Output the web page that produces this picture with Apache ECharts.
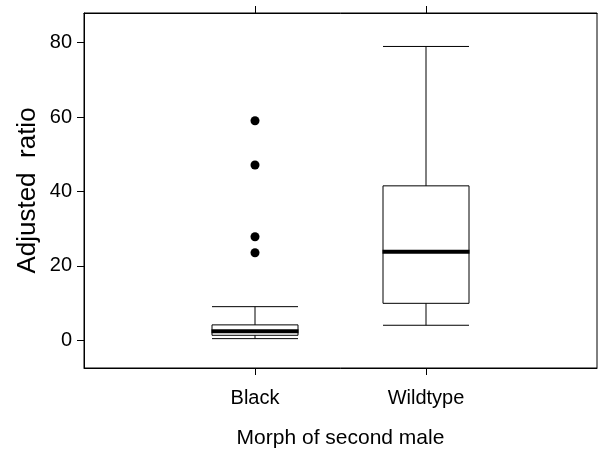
<!DOCTYPE html>
<html>
<head>
<meta charset="utf-8">
<script src="https://cdn.jsdelivr.net/npm/echarts@6/dist/echarts.min.js"></script>
<style>
html,body{margin:0;padding:0;background:#fff;}
#c{width:598px;height:449px;}
</style>
</head>
<body>
<div id="c"></div>
<script>
// Data
const categories = ['Black', 'Wildtype'];
// [min, Q1, median, Q3, max] per category
const boxStats = [
  [0.4, 1.3, 2.4, 4.1, 9.0],
  [4.0, 9.9, 23.8, 41.5, 79.0]
];
// outliers: [categoryIndex, value]
const outliers = [
  [0, 59.0], [0, 47.1], [0, 27.8], [0, 23.5]
];
const yTicks = [0, 20, 40, 60, 80];

const FONT = '"Liberation Sans", Arial, Helvetica, sans-serif';
const chart = echarts.init(document.getElementById('c'), null, {renderer: 'canvas'});

const boxData = boxStats.map((s, i) => [i + 1].concat(s));
const medianData = boxStats.map((s, i) => [i + 1, s[2]]);
const outlierData = outliers.map(o => [o[0] + 1, o[1]]);

const catFormatter = v => categories[Math.round(v) - 1] || '';

chart.setOption({
  animation: false,
  backgroundColor: '#fff',
  grid: {left: 84, right: 1, top: 13, bottom: 81, containLabel: false, outerBoundsMode: 'none',
         show: true, borderColor: '#000', borderWidth: 1, backgroundColor: 'transparent'},
  xAxis: [{
    type: 'value', min: 0, max: 3, position: 'bottom',
    axisLine: {show: true, onZero: false, lineStyle: {color: '#000', width: 1}},
    axisTick: {show: true, length: 7, lineStyle: {color: '#000'}, customValues: [1, 2]},
    axisLabel: {show: true, customValues: [1, 2], formatter: catFormatter, color: '#000', fontSize: 20, fontFamily: FONT, margin: 20},
    splitLine: {show: false},
    name: 'Morph of second male', nameLocation: 'middle', nameGap: 60, nameMoveOverlap: false,
    nameTextStyle: {color: '#000', fontSize: 21, fontFamily: FONT}
  }, {
    type: 'value', min: 0, max: 3, position: 'top',
    axisLine: {show: true, onZero: false, lineStyle: {color: '#000', width: 1}},
    axisTick: {show: true, length: 7, lineStyle: {color: '#000'}, customValues: [1, 2]},
    axisLabel: {show: false},
    splitLine: {show: false}
  }],
  yAxis: [{
    type: 'value', min: -7.5, max: 88,
    axisLine: {show: true, onZero: false, lineStyle: {color: '#000', width: 1}},
    axisTick: {show: true, length: 7, lineStyle: {color: '#000'}, customValues: yTicks},
    axisLabel: {show: true, customValues: yTicks, color: '#000', fontSize: 20, fontFamily: FONT, margin: 12},
    splitLine: {show: false},
    name: 'Adjusted  ratio', nameLocation: 'middle', nameGap: 43, nameRotate: 90, nameMoveOverlap: false,
    nameTextStyle: {color: '#000', fontSize: 26, fontFamily: FONT}
  }],
  series: [{
    type: 'boxplot',
    xAxisIndex: 0, yAxisIndex: 0,
    layout: 'horizontal',
    boxWidth: [86, 86],
    data: boxData,
    itemStyle: {color: '#fff', borderColor: '#000', borderWidth: 1},
    emphasis: {disabled: true},
    z: 2
  }, {
    type: 'scatter',
    data: medianData,
    symbol: 'rect',
    symbolSize: [87, 4],
    itemStyle: {color: '#000', opacity: 1},
    emphasis: {disabled: true},
    z: 3
  }, {
    type: 'scatter',
    data: outlierData,
    symbol: 'circle',
    symbolSize: 9,
    itemStyle: {color: '#000', opacity: 1},
    emphasis: {disabled: true},
    z: 3
  }]
});
</script>
</body>
</html>
